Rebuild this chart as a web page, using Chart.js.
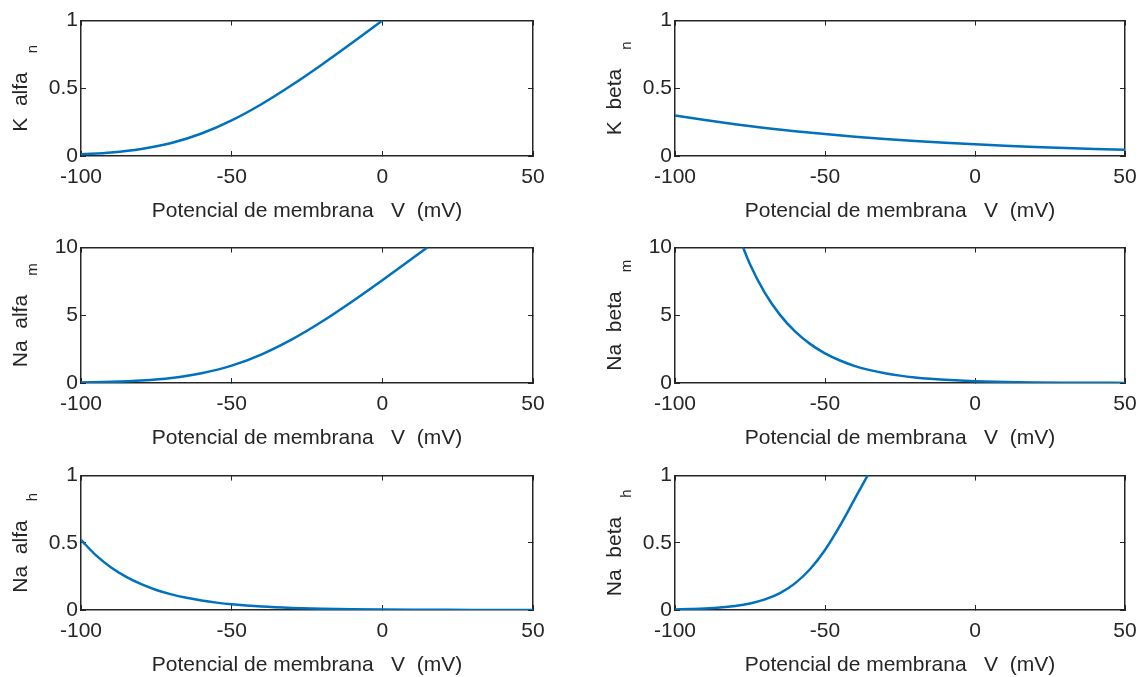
<!DOCTYPE html>
<html>
<head>
<meta charset="utf-8">
<script src="https://cdn.jsdelivr.net/npm/chart.js@4.4.0/dist/chart.umd.min.js"></script>
<style>
  html, body { margin: 0; padding: 0; background: #fff; }
  #page { position: relative; width: 1143px; height: 677px; overflow: hidden; background: #fff; }
  #page canvas { position: absolute; }
</style>
</head>
<body>
<div id="page"></div>
<script>
// Hodgkin-Huxley rate constants vs membrane potential (mV)

// K+ activation, alfa_n
const vAlfaN = [-100, -90, -80, -70, -60, -50, -40, -30, -20, -10, 0];
const alfaN = [0.012, 0.026, 0.052, 0.096, 0.166, 0.263, 0.384, 0.524, 0.676, 0.836, 1.0];

// K+ activation, beta_n
const vBetaN = [-100, -90, -80, -70, -60, -50, -40, -30, -20, -10, 0, 10, 20, 30, 40, 50];
const betaN = [0.30, 0.266, 0.235, 0.207, 0.183, 0.162, 0.143, 0.126, 0.111, 0.098, 0.087, 0.076, 0.067, 0.059, 0.052, 0.046];

// Na+ activation, alfa_m
const vAlfaM = [-100, -90, -80, -70, -60, -50, -40, -30, -20, -10, 0, 10, 15];
const alfaM = [0.038, 0.084, 0.18, 0.37, 0.72, 1.28, 2.12, 3.22, 4.54, 6.02, 7.59, 9.21, 10.03];

// Na+ activation, beta_m
const vBetaM = [-80, -75, -70, -65, -60, -55, -50, -45, -40, -35, -30, -25, -20, -15, -10, -5, 0, 10, 20, 30, 40, 50];
const betaM = [11.57, 8.77, 6.64, 5.03, 3.81, 2.89, 2.19, 1.66, 1.25, 0.95, 0.72, 0.545, 0.413, 0.313, 0.237, 0.18, 0.136, 0.078, 0.045, 0.026, 0.015, 0.0085];

// Na+ inactivation, alfa_h
const vAlfaH = [-100, -95, -90, -85, -80, -75, -70, -65, -60, -55, -50, -40, -30, -20, -10, 0, 10, 20, 30, 40, 50];
const alfaH = [0.521, 0.406, 0.316, 0.246, 0.192, 0.149, 0.116, 0.0905, 0.0705, 0.0549, 0.0427, 0.0259, 0.0157, 0.0095, 0.0058, 0.0035, 0.0021, 0.0013, 0.0008, 0.0005, 0.0003];

// Na+ inactivation, beta_h
const vBetaH = [-100, -95, -90, -85, -80, -75, -70, -65, -60, -55, -50, -45, -40, -35];
const betaH = [0.004, 0.007, 0.011, 0.018, 0.030, 0.049, 0.079, 0.126, 0.198, 0.303, 0.446, 0.627, 0.830, 1.033];

// axis ticks
const xTicks = [-100, -50, 0, 50];
const yTicksUnit = [0, 0.5, 1];
const yTicksTen = [0, 5, 10];

const xTitle = 'Potencial de membrana   V  (mV)';

const INK = '#262626';
const BLUE = '#0072bd';
const FAMILY = 'Arial, "Liberation Sans", Helvetica, sans-serif';
const TICK_FONT = 21;
const LABEL_FONT = 21;
const SUB_FONT = 15;

Chart.defaults.font.family = FAMILY;
Chart.defaults.color = INK;

const cols = [
  { left: 0, width: 560, axisW: 81, padR: 27 },
  { left: 580, width: 563, axisW: 95, padR: 18 }
];
const rows = [
  { top: 0, plotH: 141 },
  { top: 227, plotH: 141 },
  { top: 455, plotH: 140 }
];
const PAD_T = 15;
const XAXIS_H = 88;

const panels = [
  { row: 0, col: 0, v: vAlfaN, y: alfaN, ticks: yTicksUnit, main: 'K  alfa', sub: 'n' },
  { row: 0, col: 1, v: vBetaN, y: betaN, ticks: yTicksUnit, main: 'K  beta', sub: 'n' },
  { row: 1, col: 0, v: vAlfaM, y: alfaM, ticks: yTicksTen, main: 'Na  alfa', sub: 'm' },
  { row: 1, col: 1, v: vBetaM, y: betaM, ticks: yTicksTen, main: 'Na  beta', sub: 'm' },
  { row: 2, col: 0, v: vAlfaH, y: alfaH, ticks: yTicksUnit, main: 'Na  alfa', sub: 'h' },
  { row: 2, col: 1, v: vBetaH, y: betaH, ticks: yTicksUnit, main: 'Na  beta', sub: 'h' }
];

// rotated y label with a subscript after the main text
const subLabel = {
  id: 'subLabel',
  afterDraw(chart, args, opts) {
    const { ctx, chartArea } = chart;
    const cy = (chartArea.top + chartArea.bottom) / 2;
    ctx.save();
    ctx.translate(chartArea.left - opts.offset, cy);
    ctx.rotate(-Math.PI / 2);
    ctx.fillStyle = INK;
    ctx.textBaseline = 'alphabetic';
    ctx.textAlign = 'left';
    const mainFont = LABEL_FONT + 'px ' + FAMILY;
    const subFont = SUB_FONT + 'px ' + FAMILY;
    ctx.font = mainFont;
    const w1 = ctx.measureText(opts.main).width;
    ctx.font = subFont;
    const w2 = ctx.measureText(opts.sub).width;
    const x0 = -(w1 + opts.gap + w2) / 2;
    ctx.font = mainFont;
    ctx.fillText(opts.main, x0, 0);
    ctx.font = subFont;
    ctx.fillText(opts.sub, x0 + w1 + opts.gap, opts.drop);
    ctx.restore();
  }
};

// mirrored axis for the top and right edges of the box: ticks only
function boxAxis(position, min, max, tickValues) {
  const horizontal = position === 'top' || position === 'bottom';
  return {
    type: 'linear',
    position: position,
    min: min,
    max: max,
    afterBuildTicks: (scale) => { scale.ticks = tickValues.map(v => ({ value: v })); },
    afterFit: (scale) => {
      if (horizontal) scale.height = 0; else scale.width = 0;
      scale.paddingLeft = scale.paddingRight = scale.paddingTop = scale.paddingBottom = 0;
    },
    ticks: { display: false },
    grid: { drawOnChartArea: false, drawTicks: true, tickLength: -5, color: INK, lineWidth: 1 },
    border: { display: true, color: INK, width: 1.5 }
  };
}

const page = document.getElementById('page');

panels.forEach(p => {
  const col = cols[p.col];
  const row = rows[p.row];
  const h = PAD_T + row.plotH + XAXIS_H;
  const canvas = document.createElement('canvas');
  canvas.width = col.width;
  canvas.height = h;
  canvas.style.left = col.left + 'px';
  canvas.style.top = row.top + 'px';
  page.appendChild(canvas);

  const yMax = p.ticks[p.ticks.length - 1];

  new Chart(canvas, {
    type: 'line',
    data: {
      datasets: [{
        data: p.v.map((v, i) => ({ x: v, y: p.y[i] })),
        borderColor: BLUE,
        borderWidth: 2.5,
        pointRadius: 0,
        fill: false,
        cubicInterpolationMode: 'monotone',
        clip: 0
      }]
    },
    options: {
      responsive: false,
      animation: false,
      events: [],
      layout: { padding: { top: PAD_T, right: col.padR, bottom: 0, left: 0 } },
      plugins: {
        legend: { display: false },
        tooltip: { enabled: false },
        subLabel: { main: p.main, sub: p.sub, offset: 54, gap: 19, drop: 10 }
      },
      scales: {
        x: {
          type: 'linear',
          position: 'bottom',
          min: -100,
          max: 50,
          afterBuildTicks: (scale) => { scale.ticks = xTicks.map(v => ({ value: v })); },
          afterFit: (scale) => {
            scale.height = XAXIS_H;
            scale.paddingLeft = 0;
            scale.paddingRight = 0;
          },
          ticks: {
            font: { size: TICK_FONT },
            color: INK,
            padding: 14,
            maxRotation: 0,
            autoSkip: false,
            callback: (v) => String(v)
          },
          grid: { drawOnChartArea: false, drawTicks: true, tickLength: -5, color: INK, lineWidth: 1 },
          border: { display: true, color: INK, width: 1.5 },
          title: {
            display: true,
            text: xTitle,
            color: INK,
            font: { size: LABEL_FONT },
            padding: { top: 0, bottom: 20 }
          }
        },
        y: {
          type: 'linear',
          position: 'left',
          min: 0,
          max: yMax,
          afterBuildTicks: (scale) => { scale.ticks = p.ticks.map(v => ({ value: v })); },
          afterFit: (scale) => { scale.width = col.axisW; },
          ticks: {
            font: { size: TICK_FONT },
            color: INK,
            padding: 8,
            callback: (v) => String(v)
          },
          grid: { drawOnChartArea: false, drawTicks: true, tickLength: -5, color: INK, lineWidth: 1 },
          border: { display: true, color: INK, width: 1.5 }
        },
        xTop: boxAxis('top', -100, 50, xTicks),
        yRight: boxAxis('right', 0, yMax, p.ticks)
      }
    },
    plugins: [subLabel]
  });
});
</script>
</body>
</html>
